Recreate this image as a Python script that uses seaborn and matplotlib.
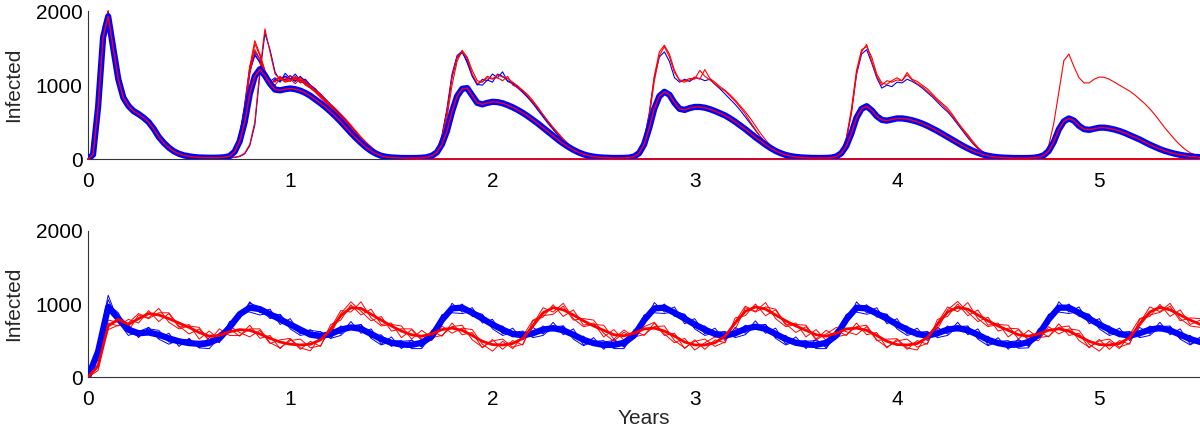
import numpy as np
import pandas as pd
import matplotlib
matplotlib.use('Agg')
import matplotlib.pyplot as plt
import seaborn as sns

# ---------------- top panel: seasonal epidemics (step 0.025 yr) ----------------
top_mean = [
    0, 60, 700, 1650, 1930, 1500, 1080, 830, 720, 650, 610, 560, 500, 410, 300, 220,
    155, 105, 72, 50, 38, 28, 22, 20, 18, 18, 20, 25,
    40, 100, 240, 500, 880, 1120, 1215, 1130, 1020, 940, 930, 945, 955, 945, 925, 895,
    855, 805, 755, 700, 640, 575, 505, 430, 355, 285, 220, 160, 110, 72, 45, 30, 22, 18,
    15, 14, 14, 15, 18, 25,
    45, 90, 200, 380, 640, 850, 950, 960, 860, 760, 740, 760, 775, 770, 755, 730,
    700, 665, 625, 580, 530, 480, 425, 370, 315, 260, 210, 165, 125, 92, 65, 46, 33, 25,
    20, 17, 15, 15, 16, 20,
    35, 80, 200, 420, 680, 850, 910, 870, 760, 680, 665, 690, 705, 705, 695, 675,
    650, 620, 590, 550, 505, 455, 405, 350, 295, 245, 195, 150, 110, 80, 56, 40, 30, 23,
    19, 16, 15, 15, 16, 20,
    35, 80, 180, 350, 560, 680, 715, 660, 580, 530, 520, 535, 550, 550, 540, 525,
    505, 480, 450, 415, 380, 340, 300, 260, 220, 180, 145, 112, 85, 62, 45, 33, 25, 20,
    17, 15, 14, 14, 15, 18,
    28, 50, 110, 230, 400, 510, 550, 520, 450, 405, 395, 410, 425, 425, 415, 400,
    380, 355, 325, 295, 265, 230, 195, 165, 135, 110, 90, 72, 58, 46, 37, 30, 25,
]

# red run that survives all five seasons
run_r1 = [
    0, 80, 820, 1750, 2000, 1450, 1050, 820, 700, 640, 590, 520, 470, 400, 300, 215,
    150, 100, 70, 48, 35, 26, 20, 17, 15, 15, 17, 22,
    35, 90, 260, 620, 1150, 1480, 1350, 1150, 1040, 1060, 1110, 1050, 1130, 1070, 1110, 1020,
    990, 930, 880, 800, 740, 680, 610, 540, 460, 380, 300, 230, 165, 110, 70, 45, 30, 20,
    15, 12, 12, 13, 16, 22,
    40, 100, 260, 560, 1000, 1320, 1470, 1380, 1200, 1060, 1040, 1100, 1080, 1140, 1110, 1090,
    1040, 990, 930, 870, 790, 700, 600, 510, 420, 340, 260, 190, 130, 85, 55, 36, 25, 18,
    14, 12, 11, 12, 14, 19,
    35, 90, 240, 560, 1050, 1400, 1520, 1380, 1170, 1070, 1060, 1090, 1080, 1200, 1120, 1070,
    1020, 960, 920, 850, 780, 700, 610, 500, 400, 300, 210, 140, 90, 58, 38, 26, 19, 15,
    13, 12, 12, 13, 15, 20,
    35, 95, 260, 620, 1150, 1450, 1550, 1320, 1120, 1000, 1060, 1040, 1070, 1060, 1170, 1080,
    1050, 1000, 950, 880, 810, 750, 690, 600, 500, 410, 330, 240, 160, 100, 60, 38, 25, 18,
    14, 12, 11, 11, 12, 15,
    25, 60, 180, 480, 900, 1330, 1420, 1250, 1100, 1030, 1030, 1080, 1110, 1105, 1080, 1040,
    1000, 960, 920, 870, 810, 750, 680, 600, 510, 420, 340, 260, 190, 130, 85, 55, 35,
]

# runs that die out after season 4
run_b1 = [
    0, 50, 650, 1600, 2000, 1550, 1120, 850, 730, 660, 600, 560, 500, 420, 310, 225,
    160, 108, 75, 52, 38, 28, 22, 18, 16, 16, 18, 24,
    38, 110, 300, 700, 1200, 1420, 1300, 1100, 1000, 1080, 1050, 1120, 1080, 1150, 1060, 1080,
    1000, 950, 860, 800, 730, 660, 590, 520, 440, 360, 290, 220, 160, 105, 68, 44, 30, 21,
    16, 13, 12, 13, 16, 22,
    45, 120, 320, 680, 1150, 1400, 1460, 1300, 1120, 1000, 1080, 1060, 1150, 1100, 1180, 1050,
    1020, 960, 900, 830, 750, 660, 570, 480, 400, 320, 250, 185, 130, 88, 58, 38, 26, 19,
    15, 13, 12, 13, 15, 20,
    38, 100, 270, 620, 1100, 1380, 1450, 1320, 1100, 1040, 1080, 1050, 1100, 1090, 1060, 1080,
    1010, 950, 880, 810, 740, 660, 570, 480, 390, 300, 220, 150, 100, 65, 42, 28, 20, 15,
    13, 12, 12, 13, 16, 21,
    38, 100, 280, 640, 1150, 1420, 1480, 1300, 1100, 960, 1000, 980, 1040, 1030, 1080, 1050,
    1010, 960, 900, 840, 770, 700, 640, 560, 470, 380, 290, 210, 140, 90, 55, 35, 22, 15,
    10, 6, 3, 1, 0, 0,
]
run_r2 = [
    0, 70, 760, 1700, 1980, 1480, 1060, 800, 690, 620, 580, 540, 480, 410, 300, 220,
    150, 102, 70, 49, 36, 27, 21, 17, 15, 15, 17, 22,
    36, 95, 280, 660, 1180, 1560, 1400, 1180, 1040, 1000, 1090, 1040, 1060, 1100, 1030, 1060,
    980, 920, 850, 780, 710, 640, 570, 500, 420, 340, 270, 200, 145, 100, 65, 42, 28, 20,
    15, 12, 11, 12, 15, 21,
    42, 110, 300, 650, 1120, 1380, 1450, 1360, 1150, 1020, 1050, 1120, 1090, 1100, 1060, 1120,
    1000, 970, 920, 850, 770, 690, 600, 510, 430, 350, 275, 205, 145, 98, 63, 41, 28, 20,
    15, 13, 12, 13, 15, 20,
    36, 95, 260, 600, 1120, 1450, 1540, 1420, 1200, 1060, 1040, 1070, 1110, 1080, 1210, 1090,
    1040, 980, 930, 870, 800, 720, 640, 550, 450, 350, 260, 180, 118, 76, 49, 32, 22, 16,
    13, 12, 12, 13, 16, 21,
    36, 100, 290, 680, 1200, 1480, 1520, 1380, 1150, 1030, 1010, 1060, 1100, 1060, 1140, 1070,
    1020, 980, 920, 860, 790, 730, 660, 580, 490, 400, 310, 220, 150, 95, 58, 35, 22, 14,
    9, 5, 2, 1, 0, 0,
]

# run that dies out after season 2
run_b2 = [
    0, 40, 600, 1550, 2000, 1600, 1150, 880, 740, 670, 620, 570, 510, 430, 320, 230,
    162, 110, 76, 53, 38, 28, 22, 18, 16, 16, 18, 23,
    40, 120, 330, 740, 1250, 1450, 1350, 1120, 1020, 1060, 1110, 1070, 1130, 1060, 1120, 1040,
    980, 930, 870, 800, 720, 650, 570, 490, 410, 330, 260, 190, 135, 90, 58, 38, 26, 19,
    15, 13, 12, 13, 16, 22,
    40, 105, 290, 640, 1100, 1370, 1440, 1330, 1130, 1010, 1000, 1070, 1040, 1150, 1120, 1060,
    1030, 980, 910, 840, 760, 680, 590, 500, 410, 325, 250, 180, 120, 75, 45, 26, 15, 8,
    4, 2, 1, 0, 0, 0,
]

# runs that die out after season 1
run_r3 = [
    0, 90, 880, 1800, 2000, 1420, 1000, 790, 680, 610, 570, 530, 470, 400, 290, 210,
    148, 100, 68, 47, 34, 25, 19, 16, 14, 14, 16, 21,
    34, 100, 300, 720, 1250, 1600, 1420, 1200, 1060, 1040, 1120, 1050, 1080, 1020, 1090, 1000,
    960, 900, 830, 760, 690, 620, 550, 470, 390, 310, 235, 170, 115, 75, 48, 30, 19, 12,
    7, 4, 2, 1, 0, 0,
]
run_b3 = [
    0, 55, 700, 1650, 2000, 1520, 1090, 840, 720, 650, 610, 550, 490, 415, 305, 220,
    155, 105, 73, 51, 37, 27, 21, 17, 15, 15, 17, 22,
    36, 105, 290, 680, 1180, 1400, 1320, 1150, 1050, 1100, 1040, 1160, 1090, 1050, 1110, 1060,
    990, 940, 880, 810, 740, 670, 600, 520, 440, 355, 275, 200, 140, 92, 58, 36, 22, 13,
    7, 4, 2, 1, 0, 0,
]
run_r4 = [
    0, 30, 480, 1400, 1950, 1650, 1200, 900, 760, 690, 640, 580, 520, 440, 330, 240,
    168, 115, 80, 55, 40, 29, 22, 18, 15, 14, 14, 15,
    18, 25, 40, 80, 200, 500, 1200, 1760, 1450, 1150, 1080, 1100, 1050, 1120, 1060, 1010,
    960, 920, 860, 790, 720, 650, 580, 510, 440, 360, 280, 205, 145, 98, 62, 38, 23, 14,
    8, 4, 2, 1, 0, 0,
]
run_b4 = [
    0, 35, 520, 1450, 1980, 1620, 1180, 890, 750, 680, 630, 575, 515, 435, 325, 235,
    165, 112, 78, 54, 39, 28, 21, 17, 15, 14, 14, 15,
    17, 22, 35, 70, 180, 460, 1150, 1700, 1480, 1180, 1060, 1120, 1080, 1100, 1040, 1030,
    970, 910, 850, 780, 710, 640, 570, 500, 430, 350, 270, 200, 140, 95, 60, 37, 22, 13,
    7, 4, 2, 1, 0, 0,
]

# ---------------- bottom panel: two interacting strains (step 0.05 yr) ----------------
blue_mean = [
    0, 350, 960, 800, 650, 600, 610, 580, 530, 490,
    465, 455, 470, 530, 680, 860, 950, 930, 860, 790,
    720, 650, 580, 560, 590, 650, 680, 660, 590, 520,
    470, 445, 440, 470, 560, 780, 940, 950, 880, 800,
    720, 650, 590, 570, 600, 650, 670, 640, 580, 510,
    465, 440, 440, 470, 570, 780, 940, 950, 880, 800,
    720, 650, 590, 565, 600, 660, 690, 660, 590, 520,
    470, 445, 440, 470, 570, 790, 950, 940, 870, 800,
    720, 650, 590, 565, 600, 650, 670, 640, 580, 510,
    465, 440, 445, 480, 580, 790, 950, 950, 880, 800,
    720, 650, 590, 565, 600, 650, 670, 640, 580, 520, 480,
]
red_mean = [
    0, 150, 700, 790, 720, 800, 870, 850, 800, 740,
    680, 610, 560, 570, 620, 650, 640, 590, 530, 480,
    450, 440, 450, 510, 650, 840, 950, 940, 860, 780,
    700, 630, 580, 560, 590, 650, 670, 640, 570, 490,
    445, 440, 460, 530, 700, 880, 950, 920, 850, 770,
    700, 640, 580, 565, 600, 660, 670, 630, 560, 480,
    440, 440, 470, 560, 740, 900, 960, 930, 850, 770,
    700, 640, 580, 560, 600, 660, 670, 640, 570, 490,
    445, 440, 460, 540, 720, 890, 955, 930, 850, 770,
    700, 640, 580, 560, 590, 640, 660, 630, 560, 490,
    445, 440, 460, 540, 720, 890, 955, 920, 850, 780, 720,
]
blue_runs = [
    [0, 440, 1120, 760, 720, 540, 680, 530, 600, 420,
     530, 400, 540, 470, 760, 800, 1030, 880, 930, 720,
     800, 590, 650, 500, 670, 590, 760, 600, 660, 450,
     550, 390, 510, 410, 640, 720, 1010, 890, 950, 740,
     790, 590, 670, 510, 680, 590, 750, 580, 660, 440,
     540, 380, 520, 410, 650, 720, 1020, 890, 960, 730,
     800, 590, 670, 500, 680, 600, 770, 600, 670, 450,
     550, 390, 520, 400, 650, 730, 1030, 880, 950, 730,
     800, 590, 670, 500, 680, 590, 750, 580, 660, 440,
     540, 380, 520, 420, 660, 730, 1030, 890, 960, 730,
     800, 590, 670, 500, 680, 590, 750, 580, 660, 450, 550],
    [0, 280, 1000, 880, 610, 560, 660, 640, 480, 460,
     520, 410, 430, 600, 640, 810, 1010, 960, 800, 860,
     690, 600, 640, 620, 530, 700, 650, 720, 540, 580,
     420, 490, 500, 420, 520, 850, 900, 1000, 830, 850,
     680, 700, 550, 620, 560, 700, 630, 700, 540, 560,
     430, 480, 500, 420, 530, 840, 890, 1000, 830, 860,
     680, 700, 550, 610, 560, 710, 650, 720, 540, 570,
     430, 490, 500, 420, 530, 850, 900, 990, 820, 860,
     680, 700, 550, 610, 560, 700, 630, 690, 530, 560,
     430, 480, 500, 430, 540, 850, 900, 1000, 830, 860,
     680, 700, 550, 610, 560, 700, 630, 690, 530, 570, 450],
    [0, 420, 1060, 750, 570, 620, 680, 520, 450, 510,
     510, 400, 390, 550, 740, 900, 890, 850, 880, 850,
     660, 570, 600, 620, 530, 570, 700, 720, 530, 440,
     490, 500, 390, 390, 580, 850, 880, 870, 900, 860,
     660, 570, 610, 630, 540, 570, 690, 700, 520, 430,
     485, 500, 390, 390, 590, 850, 880, 870, 900, 860,
     660, 570, 610, 625, 540, 580, 710, 720, 530, 440,
     490, 500, 390, 390, 590, 860, 890, 860, 890, 860,
     660, 570, 610, 625, 540, 570, 690, 700, 520, 430,
     485, 500, 395, 400, 600, 860, 890, 870, 900, 860,
     660, 570, 610, 625, 540, 570, 690, 700, 520, 440, 520],
]
red_runs = [
    [0, 90, 740, 700, 790, 740, 910, 760, 870, 680,
     720, 520, 630, 510, 660, 560, 710, 530, 570, 390,
     520, 380, 490, 420, 720, 780, 990, 850, 930, 720,
     740, 540, 650, 500, 630, 560, 740, 580, 610, 400,
     515, 380, 500, 440, 770, 820, 990, 830, 920, 710,
     740, 550, 650, 505, 640, 570, 740, 570, 600, 390,
     510, 380, 510, 470, 810, 840, 1000, 840, 920, 710,
     740, 550, 650, 500, 640, 570, 740, 580, 610, 400,
     515, 380, 500, 450, 790, 830, 1000, 840, 920, 710,
     740, 550, 650, 500, 630, 550, 730, 570, 600, 400,
     515, 380, 500, 450, 790, 830, 995, 830, 920, 720, 780],
    [0, 180, 780, 750, 630, 850, 800, 880, 880, 700,
     590, 660, 490, 600, 700, 610, 550, 640, 460, 510,
     530, 400, 360, 560, 580, 870, 1030, 900, 770, 830,
     630, 660, 660, 520, 500, 700, 600, 670, 650, 450,
     355, 490, 390, 560, 780, 840, 860, 970, 780, 800,
     780, 600, 490, 615, 530, 690, 750, 590, 470, 530,
     370, 470, 550, 520, 650, 950, 890, 960, 930, 730,
     610, 690, 510, 590, 680, 620, 580, 690, 500, 520,
     525, 400, 370, 590, 650, 920, 1035, 890, 760, 820,
     630, 670, 660, 520, 500, 690, 590, 660, 640, 450,
     355, 490, 390, 580, 800, 850, 885, 970, 770, 810, 800],
    [0, 240, 650, 710, 740, 870, 810, 940, 750, 660,
     700, 680, 500, 660, 570, 570, 660, 660, 470, 400,
     500, 520, 400, 430, 670, 910, 890, 1030, 810, 700,
     720, 700, 520, 640, 540, 570, 690, 710, 510, 410,
     495, 520, 410, 450, 720, 950, 890, 1010, 800, 690,
     720, 710, 520, 645, 550, 580, 690, 700, 500, 400,
     490, 520, 420, 480, 760, 970, 900, 1020, 800, 690,
     720, 710, 520, 640, 550, 580, 690, 710, 510, 410,
     495, 520, 410, 460, 740, 960, 895, 1020, 800, 690,
     720, 710, 520, 640, 540, 560, 680, 700, 500, 410,
     495, 520, 410, 460, 740, 960, 895, 1010, 800, 700, 680],
]

year_ticks = [0, 1, 2, 3, 4, 5]
infected_ticks = [0, 1000, 2000]

t_top = np.arange(len(top_mean)) * 0.025
t_bot = np.arange(len(blue_mean)) * 0.05


def full_length(run, n):
    # extinct runs stay at zero for the rest of the simulation
    return np.pad(np.array(run, dtype=float), (0, n - len(run)))


sns.set_style('white')
plt.rcParams['font.family'] = ['Liberation Sans', 'DejaVu Sans']

fig = plt.figure(figsize=(12, 4.3), dpi=100)
ax1 = fig.add_axes([0.0733, 0.630, 0.927, 0.344])
ax2 = fig.add_axes([0.0733, 0.123, 0.927, 0.340])

blue = '#0000FF'
red = '#FF0000'
n = len(t_top)

# blue runs first so the red extinct runs sit on top at zero
top_runs = [(run_b3, blue), (run_b4, blue), (run_b2, blue), (run_b1, blue),
            (run_r3, red), (run_r4, red), (run_r2, red), (run_r1, red)]
for run, col in top_runs:
    sns.lineplot(x=t_top, y=full_length(run, n), ax=ax1, color=col, lw=0.8,
                 estimator=None, zorder=3, clip_on=False)
sns.lineplot(x=t_top, y=top_mean, ax=ax1, color=blue, lw=4.5, estimator=None, zorder=4)
sns.lineplot(x=t_top, y=top_mean, ax=ax1, color=red, lw=1.0, estimator=None, zorder=5)

for run in blue_runs:
    sns.lineplot(x=t_bot, y=run, ax=ax2, color=blue, lw=0.7, estimator=None, zorder=3)
for run in red_runs:
    sns.lineplot(x=t_bot, y=run, ax=ax2, color=red, lw=0.7, estimator=None, zorder=3)
sns.lineplot(x=t_bot, y=blue_mean, ax=ax2, color=blue, lw=4.5, estimator=None, zorder=4)
sns.lineplot(x=t_bot, y=red_mean, ax=ax2, color=red, lw=2.0, estimator=None, zorder=5)

for ax in (ax1, ax2):
    ax.set_xlim(0, 5.5)
    ax.set_ylim(0, 2000)
    ax.set_xticks(year_ticks)
    ax.set_yticks(infected_ticks)
    ax.set_xticklabels([str(v) for v in year_ticks])
    ax.set_yticklabels([str(v) for v in infected_ticks])
    ax.tick_params(direction='in', length=9, width=0.8, labelsize=15, colors='#333333',
                   labelcolor='black')
    ax.tick_params(axis='x', pad=9)
    ax.tick_params(axis='y', pad=4)
    for side in ('top', 'right'):
        ax.spines[side].set_visible(False)
    for side in ('left', 'bottom'):
        ax.spines[side].set_color('#333333')
        ax.spines[side].set_linewidth(0.8)
    ax.set_ylabel('Infected', fontsize=15, labelpad=9)
    ax.set_xlabel('')
    ax.patch.set_alpha(0)

ax2.set_xlabel('Years', fontsize=15, labelpad=0)

fig.savefig('out.png', dpi=100)
